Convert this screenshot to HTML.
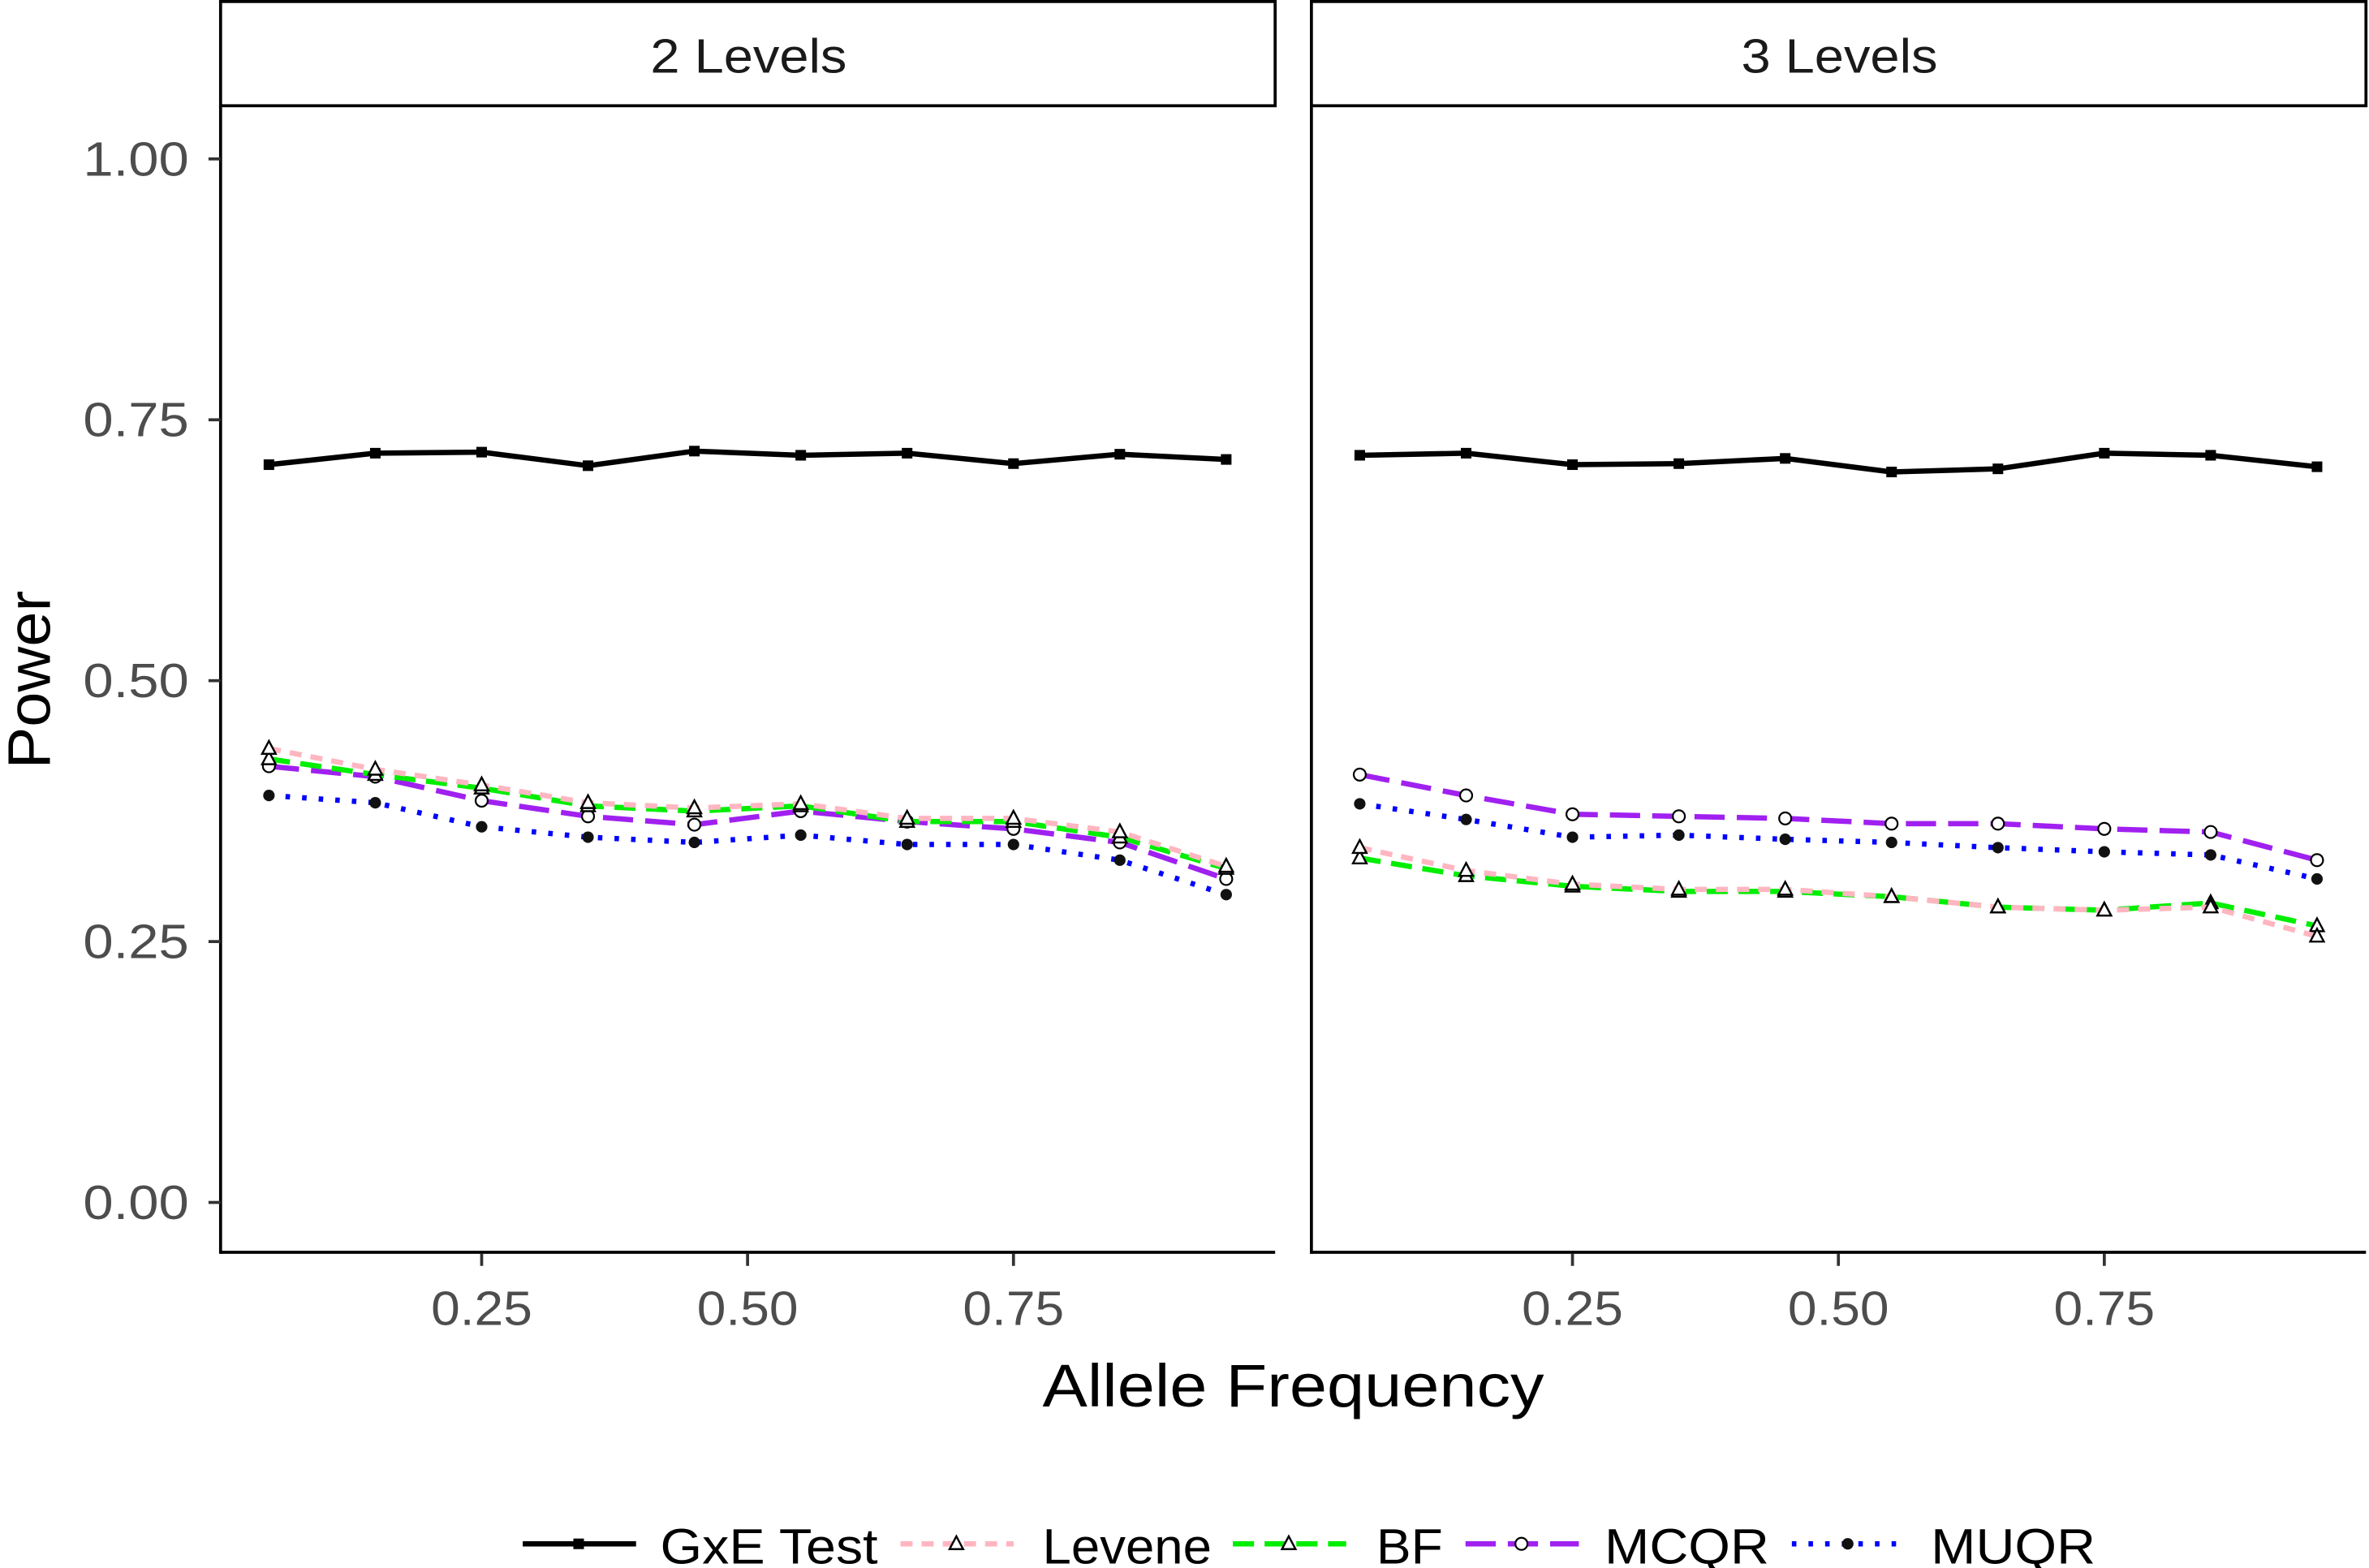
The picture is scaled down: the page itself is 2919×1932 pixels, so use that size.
<!DOCTYPE html>
<html><head><meta charset="utf-8"><style>
html,body{margin:0;padding:0;background:#fff;}
svg{display:block;font-family:"Liberation Sans",sans-serif;}
</style></head><body>
<svg id="chart" width="2919" height="1932" viewBox="0 0 1568 1038" preserveAspectRatio="none" xmlns="http://www.w3.org/2000/svg">
<g id="root"></g>
</svg>
<script>
const xValues = [0.05,0.15,0.25,0.35,0.45,0.55,0.65,0.75,0.85,0.95];
const panels = ["2 Levels","3 Levels"];
const gxe2 = [0.707,0.718,0.719,0.706,0.720,0.716,0.718,0.708,0.717,0.712];
const levene2 = [0.435,0.415,0.400,0.383,0.378,0.382,0.368,0.368,0.355,0.322];
const bf2 = [0.425,0.410,0.397,0.380,0.375,0.380,0.365,0.365,0.350,0.320];
const mcqr2 = [0.418,0.408,0.385,0.370,0.362,0.375,0.365,0.358,0.345,0.310];
const muqr2 = [0.390,0.383,0.360,0.350,0.345,0.352,0.343,0.343,0.328,0.295];
const gxe3 = [0.716,0.718,0.707,0.708,0.713,0.700,0.703,0.718,0.716,0.705];
const levene3 = [0.340,0.318,0.305,0.300,0.300,0.293,0.283,0.280,0.283,0.255];
const bf3 = [0.330,0.313,0.303,0.298,0.298,0.293,0.283,0.280,0.287,0.265];
const mcqr3 = [0.410,0.390,0.372,0.370,0.368,0.363,0.363,0.358,0.355,0.328];
const muqr3 = [0.382,0.367,0.350,0.352,0.348,0.345,0.340,0.336,0.333,0.310];
const yTicks = [0,0.25,0.5,0.75,1.0];
const yTickLabels = ["0.00","0.25","0.50","0.75","1.00"];
const xTicks = [0.25,0.5,0.75];
const xTickLabels = ["0.25","0.50","0.75"];
const seriesNames = ["GxE Test","Levene","BF","MCQR","MUQR"];

const NS="http://www.w3.org/2000/svg";
const root=document.getElementById('root');
function mk(tag,attrs,parent){const e=document.createElementNS(NS,tag);for(const k in attrs)e.setAttribute(k,attrs[k]);(parent||root).appendChild(e);return e;}
const panelX=[146,868], panelW=699;
function xs(p,v){return panelX[p]+32+(v-0.05)/0.25*176;}
function ys(v){return 796-v*690.8;}
const styles=[
 {color:"#000",dash:"",w:3.5,shape:"square"},
 {color:"#FFB6C1",dash:"8,6",w:3.5,shape:"tri"},
 {color:"#00EE00",dash:"14,7",w:3.5,shape:"tri"},
 {color:"#A020F0",dash:"20,8",w:3.5,shape:"circle"},
 {color:"#0000FF",dash:"3,8",w:3.5,shape:"dot"}];
function marker(g,shape,x,y){
 let e;
 if(shape==="square"){e=mk('rect',{x:x-3.5,y:y-3.5,width:7,height:7,fill:'#000'},g);}
 else if(shape==="tri"){e=mk('polygon',{points:`${x},${y-5} ${x-4.5},${y+3.5} ${x+4.5},${y+3.5}`,fill:'#fff',stroke:'#000','stroke-width':1.3},g);}
 else if(shape==="circle"){e=mk('circle',{cx:x,cy:y,r:4,fill:'#fff',stroke:'#000','stroke-width':1.2},g);}
 else {e=mk('circle',{cx:x,cy:y,r:3.8,fill:'#111'},g);}
 
 
}
const data=[[gxe2,levene2,bf2,mcqr2,muqr2],[gxe3,levene3,bf3,mcqr3,muqr3]];
for(let p=0;p<2;p++){
 const pg=mk('g',{});
 
 
 const strip=mk('rect',{x:panelX[p],y:1,width:panelW-1,height:69,fill:'#fff',stroke:'#000','stroke-width':2},pg);
 
 
 const st=mk('text',{x:panelX[p]+panelW/2,y:48,'text-anchor':'middle','font-size':32,fill:'#1a1a1a',textLength:130,lengthAdjust:'spacingAndGlyphs'},pg);
 st.textContent=panels[p];
 
 
 mk('line',{x1:panelX[p],y1:70,x2:panelX[p],y2:830,stroke:'#000','stroke-width':2},pg);
 mk('line',{x1:panelX[p],y1:829,x2:panelX[p]+panelW-1,y2:829,stroke:'#000','stroke-width':2},pg);
 xTicks.forEach((t,i)=>{const x=xs(p,t);mk('line',{x1:x,y1:830,x2:x,y2:838,stroke:'#333','stroke-width':2},pg);
  const tl=mk('text',{x:x,y:877,'text-anchor':'middle','font-size':32,fill:'#4d4d4d',textLength:67,lengthAdjust:'spacingAndGlyphs'},pg);tl.textContent=xTickLabels[i];
  
  });
 if(p===0){yTicks.forEach((t,i)=>{const y=ys(t);mk('line',{x1:138,y1:y,x2:146,y2:y,stroke:'#333','stroke-width':2},pg);
  const tl=mk('text',{x:125,y:y+11,'text-anchor':'end','font-size':32,fill:'#4d4d4d',textLength:70,lengthAdjust:'spacingAndGlyphs'},pg);tl.textContent=yTickLabels[i];
  
  });}
 for(let s=4;s>=0;s--){
  const vals=data[p][s];const stl=styles[s];
  const pts=vals.map((v,i)=>xs(p,xValues[i])+','+ys(v)).join(' ');
  const ln=mk('polyline',{points:pts,fill:'none',stroke:stl.color,'stroke-width':stl.w,'stroke-dasharray':stl.dash,'stroke-linejoin':'round'},pg);
  
  
  vals.forEach((v,i)=>marker(pg,stl.shape,xs(p,xValues[i]),ys(v)));
 }
}
const yt=mk('text',{x:0,y:0,'text-anchor':'middle','font-size':40,fill:'#000',transform:'translate(33,450) rotate(-90)',textLength:118,lengthAdjust:'spacingAndGlyphs'});
yt.textContent="Power";


const xt=mk('text',{x:856,y:931,'text-anchor':'middle','font-size':40,fill:'#000',textLength:332,lengthAdjust:'spacingAndGlyphs'});
xt.textContent="Allele Frequency";


// legend
const lx=[346,596,816,970,1186];
const tx=[437,690,911,1062,1278];
const tw=[144,112,44,109,109];
const lg=mk('g',{});


seriesNames.forEach((n,s)=>{
 const stl=styles[s];const x=lx[s];const y=1022;
 const e=mk('g',{},lg);
 
 
 mk('line',{x1:x,y1:y,x2:x+75,y2:y,stroke:stl.color,'stroke-width':stl.w,'stroke-dasharray':stl.dash},e);
 marker(e,stl.shape,x+37,y);
 const t=mk('text',{x:tx[s],y:y+13,'font-size':33,fill:'#000',textLength:tw[s],lengthAdjust:'spacingAndGlyphs'},e);t.textContent=n;
});
</script>
</body></html>
